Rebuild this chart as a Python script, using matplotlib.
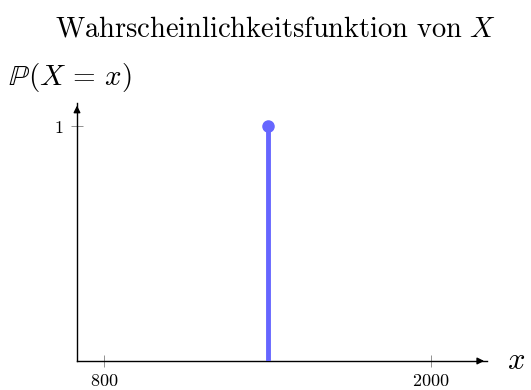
import matplotlib
matplotlib.use("Agg")
import matplotlib.pyplot as plt

plt.rcParams["mathtext.fontset"] = "cm"
plt.rcParams["font.family"] = "serif"
plt.rcParams["font.serif"] = ["DejaVu Serif"]

# data
x_vals = [1400]
p_vals = [1.0]
xticks = [800, 2000]
yticks = [1]

fig = plt.figure(figsize=(5.31, 3.90), dpi=100)
ax = fig.add_axes([0.145, 0.0744, 0.772, 0.662])

stem_col = "#6666ff"
ax.vlines(x_vals, 0, p_vals, color=stem_col, lw=3.5, zorder=3)
ax.plot(x_vals, p_vals, "o", color=stem_col, ms=8, zorder=4, clip_on=False)

ax.set_xlim(700, 2205)
ax.set_ylim(0, 1.1)
for s in ["top", "right"]:
    ax.spines[s].set_visible(False)
for s in ["left", "bottom"]:
    ax.spines[s].set_linewidth(1.0)

# arrow heads
ax.annotate("", xy=(1.0, 0), xycoords="axes fraction", xytext=(0.97, 0),
            arrowprops=dict(arrowstyle="-|>", color="black", lw=1.0, mutation_scale=10))
ax.annotate("", xy=(0, 1.0), xycoords="axes fraction", xytext=(0, 0.96),
            arrowprops=dict(arrowstyle="-|>", color="black", lw=1.0, mutation_scale=10))

ax.set_xticks(xticks)
ax.set_xticklabels([rf"$\mathrm{{{t}}}$" for t in xticks])
ax.set_yticks(yticks)
ax.set_yticklabels([rf"$\mathrm{{{t}}}$" for t in yticks])
ax.tick_params(direction="inout", length=8, width=0.6, color="#808080",
               labelsize=13, pad=6)
ax.tick_params(axis="x", pad=4)

fig.text(0.518, 0.925, r"$\mathrm{Wahrscheinlichkeitsfunktion\ von}\ X$",
         ha="center", va="center", fontsize=20.5)
fig.text(0.015, 0.80, r"$\mathbb{P}(X\,=\,x)$", ha="left", va="center", fontsize=21)
fig.text(0.955, 0.075, r"$x$", ha="left", va="center", fontsize=22)

fig.savefig("out.png", dpi=100)
